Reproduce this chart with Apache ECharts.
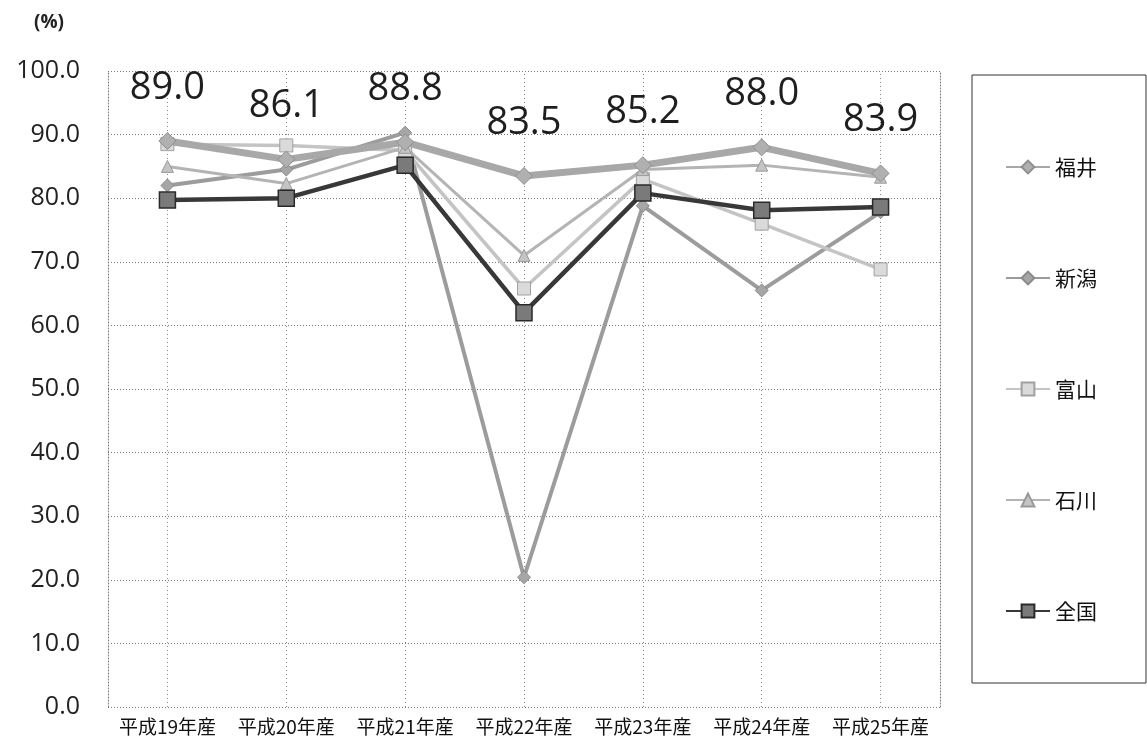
<!DOCTYPE html>
<html>
<head>
<meta charset="utf-8">
<script src="https://cdn.jsdelivr.net/npm/echarts@6/dist/echarts.min.js"></script>
<style>
  html, body { margin: 0; padding: 0; background: #fff; }
  #chart { width: 1147px; height: 749px; }
</style>
</head>
<body>
<div id="chart"></div>
<script>
// Harvest years and first-grade rice ratio (%) by prefecture
const categories = ['平成19年産', '平成20年産', '平成21年産', '平成22年産', '平成23年産', '平成24年産', '平成25年産'];
const fukui    = [89.0, 86.1, 88.8, 83.5, 85.2, 88.0, 83.9];
const niigata  = [82.0, 84.5, 90.3, 20.4, 78.8, 65.5, 77.8];
const toyama   = [88.5, 88.3, 87.5, 65.8, 83.0, 76.0, 68.8];
const ishikawa = [85.0, 82.3, 88.0, 71.0, 84.5, 85.2, 83.3];
const zenkoku  = [79.7, 80.0, 85.2, 62.0, 80.8, 78.1, 78.6];
const yTicks = [0, 100, 10]; // min, max, interval

const FONT = '"Open Sans", "Noto Sans CJK JP", sans-serif';
const JP = '"Noto Sans CJK JP", sans-serif';

const chart = echarts.init(document.getElementById('chart'));

const dotted = { color: '#7a7a7a', width: 1, type: [1, 2] };

chart.setOption({
  animation: false,
  backgroundColor: '#ffffff',
  grid: { left: 108, right: 207, top: 71, bottom: 42, containLabel: false },
  graphic: [{
    type: 'text', left: 34, top: 13,
    style: { text: '(%)', font: 'bold 19px ' + FONT, fill: '#222' }
  }],
  legend: {
    orient: 'vertical',
    left: 972, top: 75,
    padding: [81, 49, 61, 33],
    itemWidth: 44, itemHeight: 16, itemGap: 89,
    borderColor: '#333', borderWidth: 1,
    textStyle: { fontFamily: JP, fontSize: 21, color: '#111', lineHeight: 22 },
    data: ['福井', '新潟', '富山', '石川', '全国']
  },
  xAxis: {
    type: 'category',
    data: categories,
    boundaryGap: true,
    axisLine: { show: false },
    axisTick: { show: false },
    splitLine: { show: false },
    axisLabel: { fontFamily: JP, fontSize: 19, color: '#111', margin: 10, interval: 0 }
  },
  yAxis: [{
    type: 'value',
    min: yTicks[0], max: yTicks[1], interval: yTicks[2],
    axisLine: { show: true, lineStyle: dotted },
    axisTick: { show: false },
    splitLine: { show: true, lineStyle: dotted },
    axisLabel: {
      fontFamily: FONT, fontSize: 25, color: '#222', margin: 28,
      formatter: v => v.toFixed(1)
    }
  }, {
    type: 'value', position: 'right',
    min: yTicks[0], max: yTicks[1], interval: yTicks[2],
    axisLine: { show: true, lineStyle: dotted },
    axisTick: { show: false },
    axisLabel: { show: false },
    splitLine: { show: false }
  }],
  series: [
    {
      name: '新潟', type: 'line', data: niigata, z: 2,
      symbol: 'diamond', symbolSize: 13,
      lineStyle: { color: '#9c9c9c', width: 4 },
      itemStyle: { color: '#a6a6a6', borderColor: '#8a8a8a', borderWidth: 1 },
      markLine: {
        silent: true, symbol: 'none', z: 0,
        label: { show: false },
        lineStyle: { color: '#8a8a8a', width: 1, type: [1, 3] },
        data: categories.map((c) => ({ xAxis: c }))
      }
    },
    {
      name: '富山', type: 'line', data: toyama, z: 3,
      symbol: 'rect', symbolSize: 13,
      lineStyle: { color: '#c4c4c4', width: 3.5 },
      itemStyle: { color: '#dadada', borderColor: '#a0a0a0', borderWidth: 1 }
    },
    {
      name: '石川', type: 'line', data: ishikawa, z: 3,
      symbol: 'triangle', symbolSize: 12,
      lineStyle: { color: '#b4b4b4', width: 3 },
      itemStyle: { color: '#c4c4c4', borderColor: '#999', borderWidth: 1 }
    },
    {
      name: '福井', type: 'line', data: fukui, z: 4,
      symbol: 'diamond', symbolSize: 17,
      lineStyle: { color: '#a8a8a8', width: 7 },
      itemStyle: { color: '#b0b0b0', borderColor: '#8e8e8e', borderWidth: 1 },
      label: {
        show: true, position: 'top', distance: 24,
        fontFamily: FONT, fontSize: 38, lineHeight: 40, color: '#1e1e1e',
        formatter: p => p.value.toFixed(1)
      }
    },
    {
      name: '全国', type: 'line', data: zenkoku, z: 5,
      symbol: 'rect', symbolSize: 16,
      lineStyle: { color: '#383838', width: 4.5 },
      itemStyle: { color: '#7a7a7a', borderColor: '#2a2a2a', borderWidth: 1.5 }
    }
  ]
});
</script>
</body>
</html>
